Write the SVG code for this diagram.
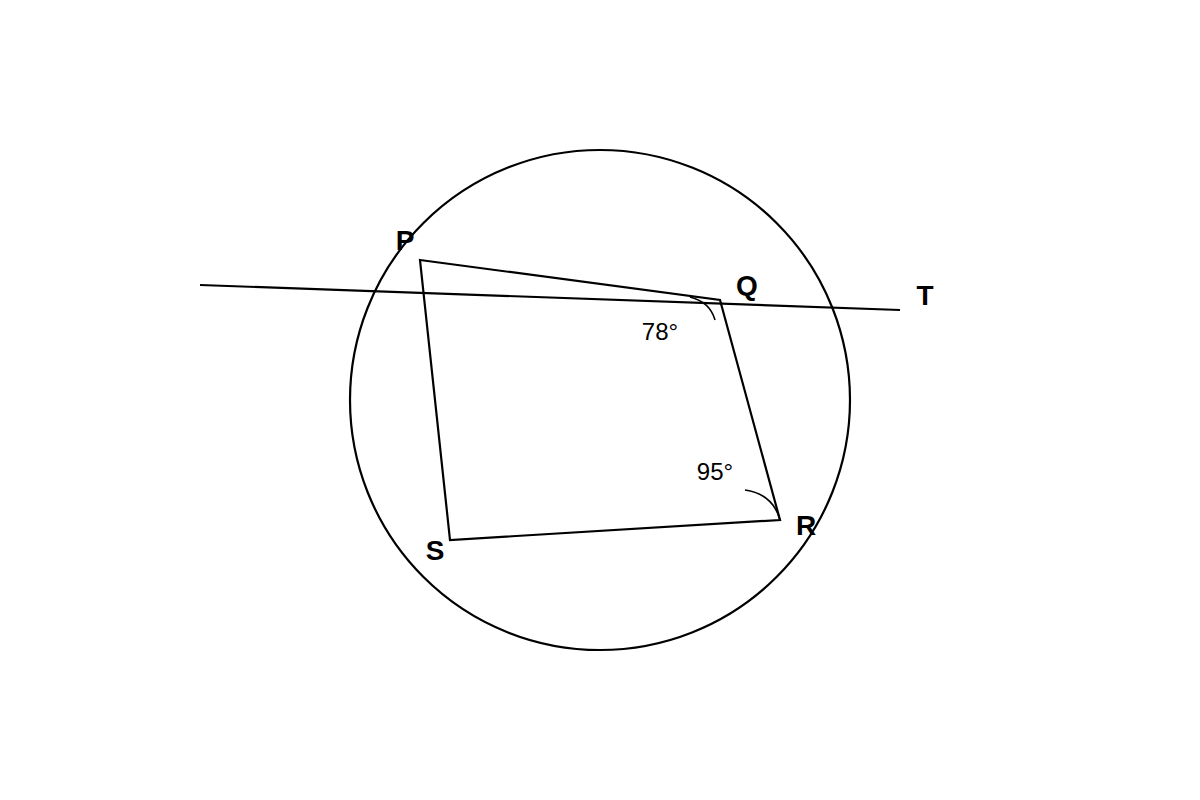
<svg xmlns="http://www.w3.org/2000/svg" width="1200" height="800" viewBox="0 0 1200 800">
<style>
.ln{fill:none;stroke:#000;stroke-width:2.2;stroke-linejoin:miter}
.arc{fill:none;stroke:#000;stroke-width:1.6}
.lb{font-family:"Liberation Sans",Arial,sans-serif;font-weight:bold;font-size:28px;text-anchor:middle;fill:#000}
.ang{font-family:"Liberation Sans",Arial,sans-serif;font-size:24px;text-anchor:middle;fill:#000}
</style>
<rect width="1200" height="800" fill="#fff"/>
<g id="circle"><circle class="ln" cx="600" cy="400" r="250"/></g>
<g id="connectors">
<line class="ln" x1="200" y1="285" x2="900" y2="310"/>
<polygon class="ln" points="420,260 720,300 780,520 450,540"/>
<path class="arc" d="M 690 297 Q 710 302 715 320"/>
<path class="arc" d="M 745 490 Q 773 494 780 520"/>
</g>
<g id="P"><text class="lb" x="405" y="250">P</text></g>
<g id="Q"><text class="lb" x="747" y="295">Q</text></g>
<g id="T"><text class="lb" x="925" y="305">T</text></g>
<g id="R"><text class="lb" x="806" y="535">R</text></g>
<g id="S"><text class="lb" x="435" y="560">S</text></g>
<g id="a78"><text class="ang" x="660" y="340">78°</text></g>
<g id="a95"><text class="ang" x="715" y="480">95°</text></g>
</svg>
